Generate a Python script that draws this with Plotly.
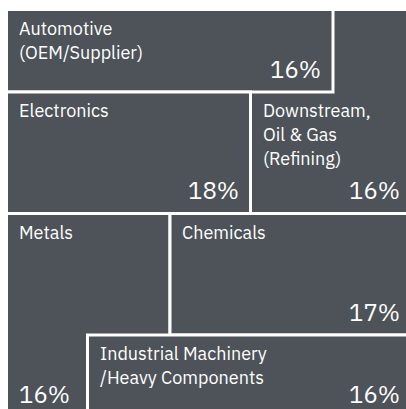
import plotly.graph_objects as go

# ---- data ----
categories = [
    "Automotive\n(OEM/Supplier)",
    "Electronics",
    "Downstream,\nOil & Gas\n(Refining)",
    "Metals",
    "Chemicals",
    "Industrial Machinery\n/Heavy Components",
]
shares = [16, 18, 16, 16, 17, 16]  # percent

# ---- layout of tiles (drawing order matters: back tiles first) ----
# index into categories, rect (x0, y0, x1, y1), top of visible area for label, value alignment
tiles = [
    dict(i=2, rect=(250.5, 9.5, 412, 213.5), label_top=92, value_align="right"),
    dict(i=0, rect=(6.5, 9.5, 333, 92), label_top=9.5, value_align="right"),
    dict(i=1, rect=(6.5, 92, 250.5, 213.5), label_top=92, value_align="right"),
    dict(i=3, rect=(6.5, 213.5, 170, 417), label_top=213.5, value_align="left"),
    dict(i=4, rect=(170, 213.5, 412, 335), label_top=213.5, value_align="right"),
    dict(i=5, rect=(87.5, 335, 412, 417), label_top=335, value_align="right"),
]

FILL = "#4d5358"
EDGE = "white"
FONT = "IBM Plex Sans, Noto Sans, sans-serif"
PAD = 12
LABEL_SIZE = 18
VALUE_SIZE = 24
LINE_STEP = 24
Y_MAX = 409

fig = go.Figure()
# invisible trace to establish axes
fig.add_trace(go.Scatter(x=[0, 406], y=[0, Y_MAX], mode="markers",
                         marker=dict(opacity=0), hoverinfo="skip", showlegend=False))

shapes = []
annotations = []
for t in tiles:
    x0, y0, x1, y1 = t["rect"]
    shapes.append(dict(type="rect", xref="x", yref="y", x0=x0, y0=y0, x1=x1, y1=y1,
                       fillcolor=FILL, line=dict(color=EDGE, width=3), layer="above"))

for t in tiles:
    x0, y0, x1, y1 = t["rect"]
    lines = categories[t["i"]].split("\n")
    for k, ln in enumerate(lines):
        annotations.append(dict(x=x0 + PAD, y=t["label_top"] + 7 + k * LINE_STEP,
                                xref="x", yref="y", text=ln, showarrow=False,
                                xanchor="left", yanchor="top", borderpad=0, borderwidth=0,
                                font=dict(family=FONT, size=LABEL_SIZE, color="white")))
    if t["value_align"] == "right":
        vx, xa = x1 - PAD, "right"
    else:
        vx, xa = x0 + PAD, "left"
    target = y1 - 7.5
    anchor = min(target, Y_MAX - 1)
    annotations.append(dict(x=vx, y=anchor, yshift=-(target - anchor), xref="x", yref="y",
                            text=f"{shares[t['i']]}%", showarrow=False,
                            xanchor=xa, yanchor="bottom", borderpad=0, borderwidth=0,
                            font=dict(family=FONT, size=VALUE_SIZE, color="white")))

fig.update_layout(
    width=406, height=409,
    margin=dict(l=0, r=0, t=0, b=0),
    paper_bgcolor="white", plot_bgcolor="white",
    xaxis=dict(range=[0, 406], visible=False, fixedrange=True),
    yaxis=dict(range=[Y_MAX, 0], visible=False, fixedrange=True),
    shapes=shapes, annotations=annotations, showlegend=False,
)
fig.write_html("out.html")
